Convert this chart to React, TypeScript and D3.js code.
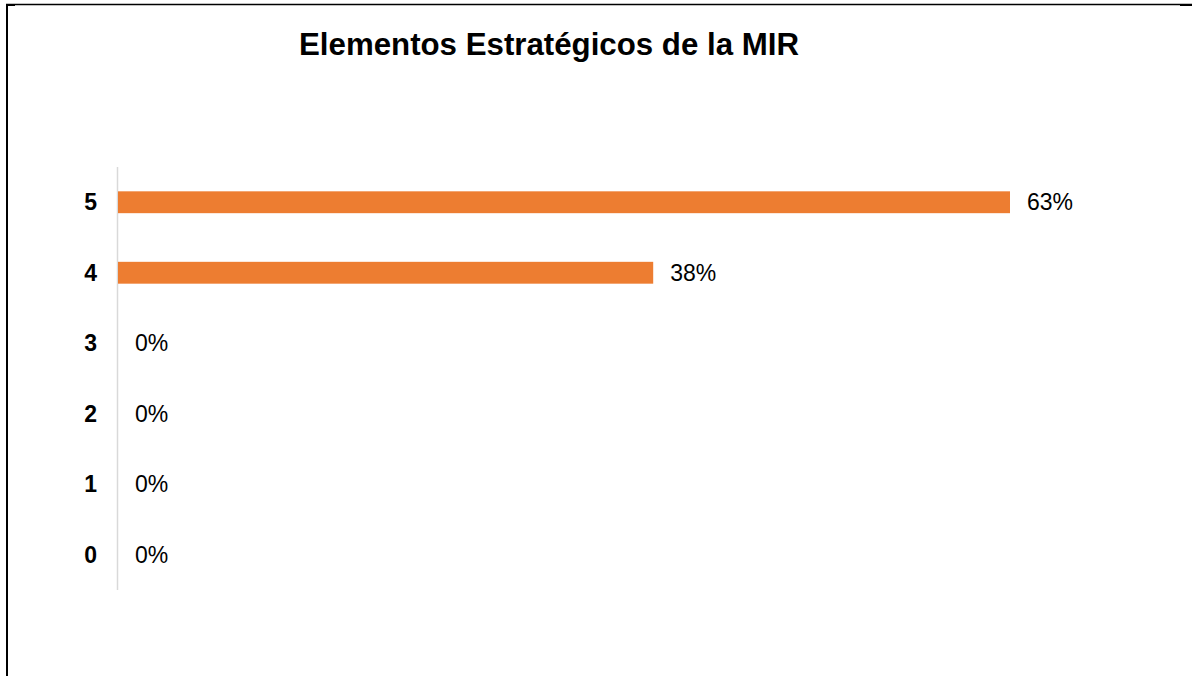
import React from 'react';
import * as d3 from 'd3';

// valores de la grafica
const categories = ['5', '4', '3', '2', '1', '0'];
const values = [62.5, 37.5, 0, 0, 0, 0];
const title = 'Elementos Estratégicos de la MIR';

const W = 1192;
const H = 676;

const App = () => {
  const y = d3.scaleBand<string>().domain(categories).range([167, 590]).paddingInner(0.69).paddingOuter(0.345);
  const x = d3.scaleLinear().domain([0, 62.5]).range([118, 1010]);
  const fmt = (v: number) => Math.round(v) + '%';

  return (
    <svg width={W} height={H} style={{ position: 'absolute', left: 0, top: 0, background: 'white' }}>
      {/* marco */}
      <line x1={6} y1={4.5} x2={W} y2={4.5} stroke="#000" strokeWidth={1.5} />
      <line x1={7} y1={4} x2={7} y2={H} stroke="#000" strokeWidth={2} />
      <rect x={6} y={4} width={9} height={2} fill="#000" />
      <rect x={1180} y={4} width={12} height={2} fill="#000" />

      <text x={549} y={55} textAnchor="middle" fontFamily="Arial, 'Liberation Sans', sans-serif"
        fontWeight="bold" fontSize={31} textLength={500} lengthAdjust="spacingAndGlyphs" fill="#000">
        {title}
      </text>

      <line x1={117.5} y1={167} x2={117.5} y2={590} stroke="#d9d9d9" strokeWidth={1.5} />

      {categories.map((c, i) => {
        const yc = (y(c) as number) + y.bandwidth() / 2;
        return (
          <g key={c}>
            <text x={97} y={yc + 8} textAnchor="end" fontFamily="Arial, 'Liberation Sans', sans-serif"
              fontWeight="bold" fontSize={23} fill="#000">{c}</text>
            {values[i] > 0 && (
              <rect x={x(0)} y={y(c)} width={x(values[i]) - x(0)} height={y.bandwidth()} fill="#ed7d31" />
            )}
            <text x={x(values[i]) + 17} y={yc + 8} fontFamily="Arial, 'Liberation Sans', sans-serif"
              fontSize={23} fill="#000">{fmt(values[i])}</text>
          </g>
        );
      })}
    </svg>
  );
};

export default App;
